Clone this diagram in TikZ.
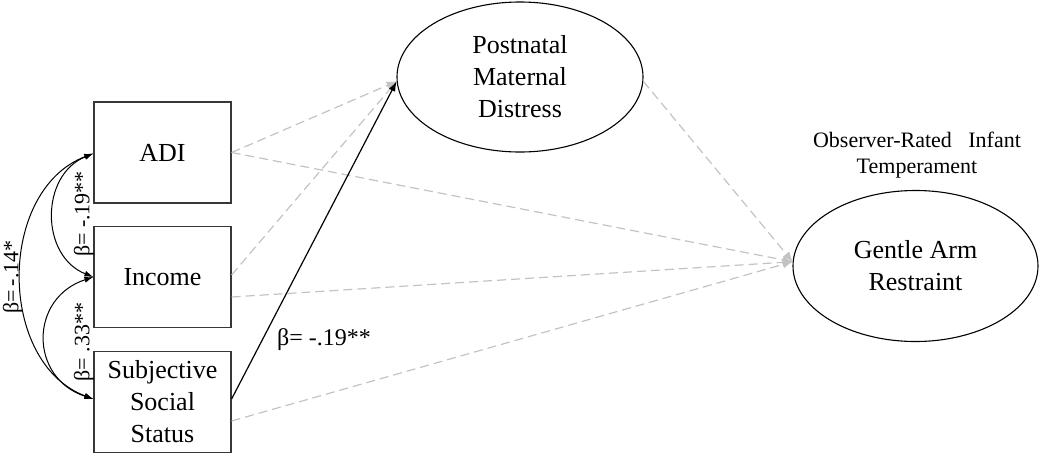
\documentclass[tikz,border=0pt]{standalone}
\usepackage{fontspec}
\setmainfont{Liberation Serif}
\usetikzlibrary{arrows.meta,shapes.geometric}
\definecolor{pathgrey}{RGB}{195,195,195}
\definecolor{framegrey}{RGB}{55,55,55}
\begin{document}
\begin{tikzpicture}[x=1pt,y=-1pt,
  varbox/.style={draw=framegrey, line width=1.2pt, minimum width=137pt,
    minimum height=101pt, inner sep=0pt, align=center,
    font=\fontsize{26}{32}\selectfont},
  latent/.style={draw=black, line width=1.1pt, ellipse, inner sep=0pt,
    align=center, font=\fontsize{26}{32}\selectfont},
  nspath/.style={draw=pathgrey, line width=1.2pt, dash pattern=on 9pt off 5pt,
    -{Latex[length=10pt,width=8pt]}},
  sigpath/.style={draw=black, line width=1.2pt, -{Latex[length=10pt,width=7pt]}},
  covar/.style={draw=black, line width=1pt,
    {Latex[length=9pt,width=6pt]}-{Latex[length=9pt,width=6pt]}},
  coef/.style={font=\fontsize{22}{26}\selectfont, inner sep=0pt, rotate=90},
]
\useasboundingbox (0,0) rectangle (1042,456);

% observed predictors
\node[varbox] (adi)    at (162.5,152.5) {ADI};
\node[varbox] (income) at (162.5,277)   {Income};
\node[varbox] (sss)    at (162.5,402)   {Subjective\\Social\\Status};

% mediator and outcome
\node[latent, minimum width=246pt, minimum height=150pt] (pmd) at (520,77)
  {Postnatal\\Maternal\\Distress};
\node[latent, minimum width=245pt, minimum height=151pt] (gar) at (915.5,266)
  {Gentle Arm\\Restraint};
\node[inner sep=0pt, align=center, font=\fontsize{22}{26}\selectfont] (otitle)
  at (917,155) {Observer-Rated\ \ \ Infant\\Temperament};

% non-significant paths
\draw[nspath] (adi.east) -- (pmd.182);
\draw[nspath] ([yshift=2pt]income.east) -- (pmd.182);
\draw[nspath] (adi.east) -- (gar.178);
\draw[nspath] ([yshift=-20pt]income.east) -- (gar.178);
\draw[nspath] ([yshift=-19pt]sss.east) -- (gar.178);
\draw[nspath] (pmd.-2) -- (gar.178);

% significant path
\draw[sigpath] ([yshift=3pt]sss.east) -- (pmd.182);
\node[inner sep=0pt, anchor=base west, font=\fontsize{24}{28}\selectfont] (bsig)
  at (277,345) {β= -.19**};

% correlations among predictors
\draw[covar] ([yshift=-1pt]adi.west) .. controls (40,175) and (40,256) .. (income.west);
\draw[covar] (income.west) .. controls (29,298) and (29,378) .. ([yshift=3pt]sss.west);
\draw[covar] ([yshift=-1pt]adi.west) .. controls (-3,190) and (-3,363) .. ([yshift=3pt]sss.west);

\node[coef] (r1) at (84,214) {β= -.19**};
\node[coef] (r2) at (84,342) {β= .33**};
\node[coef] (r3) at (13,277) {β=\,-.14*};
\end{tikzpicture}
\end{document}
